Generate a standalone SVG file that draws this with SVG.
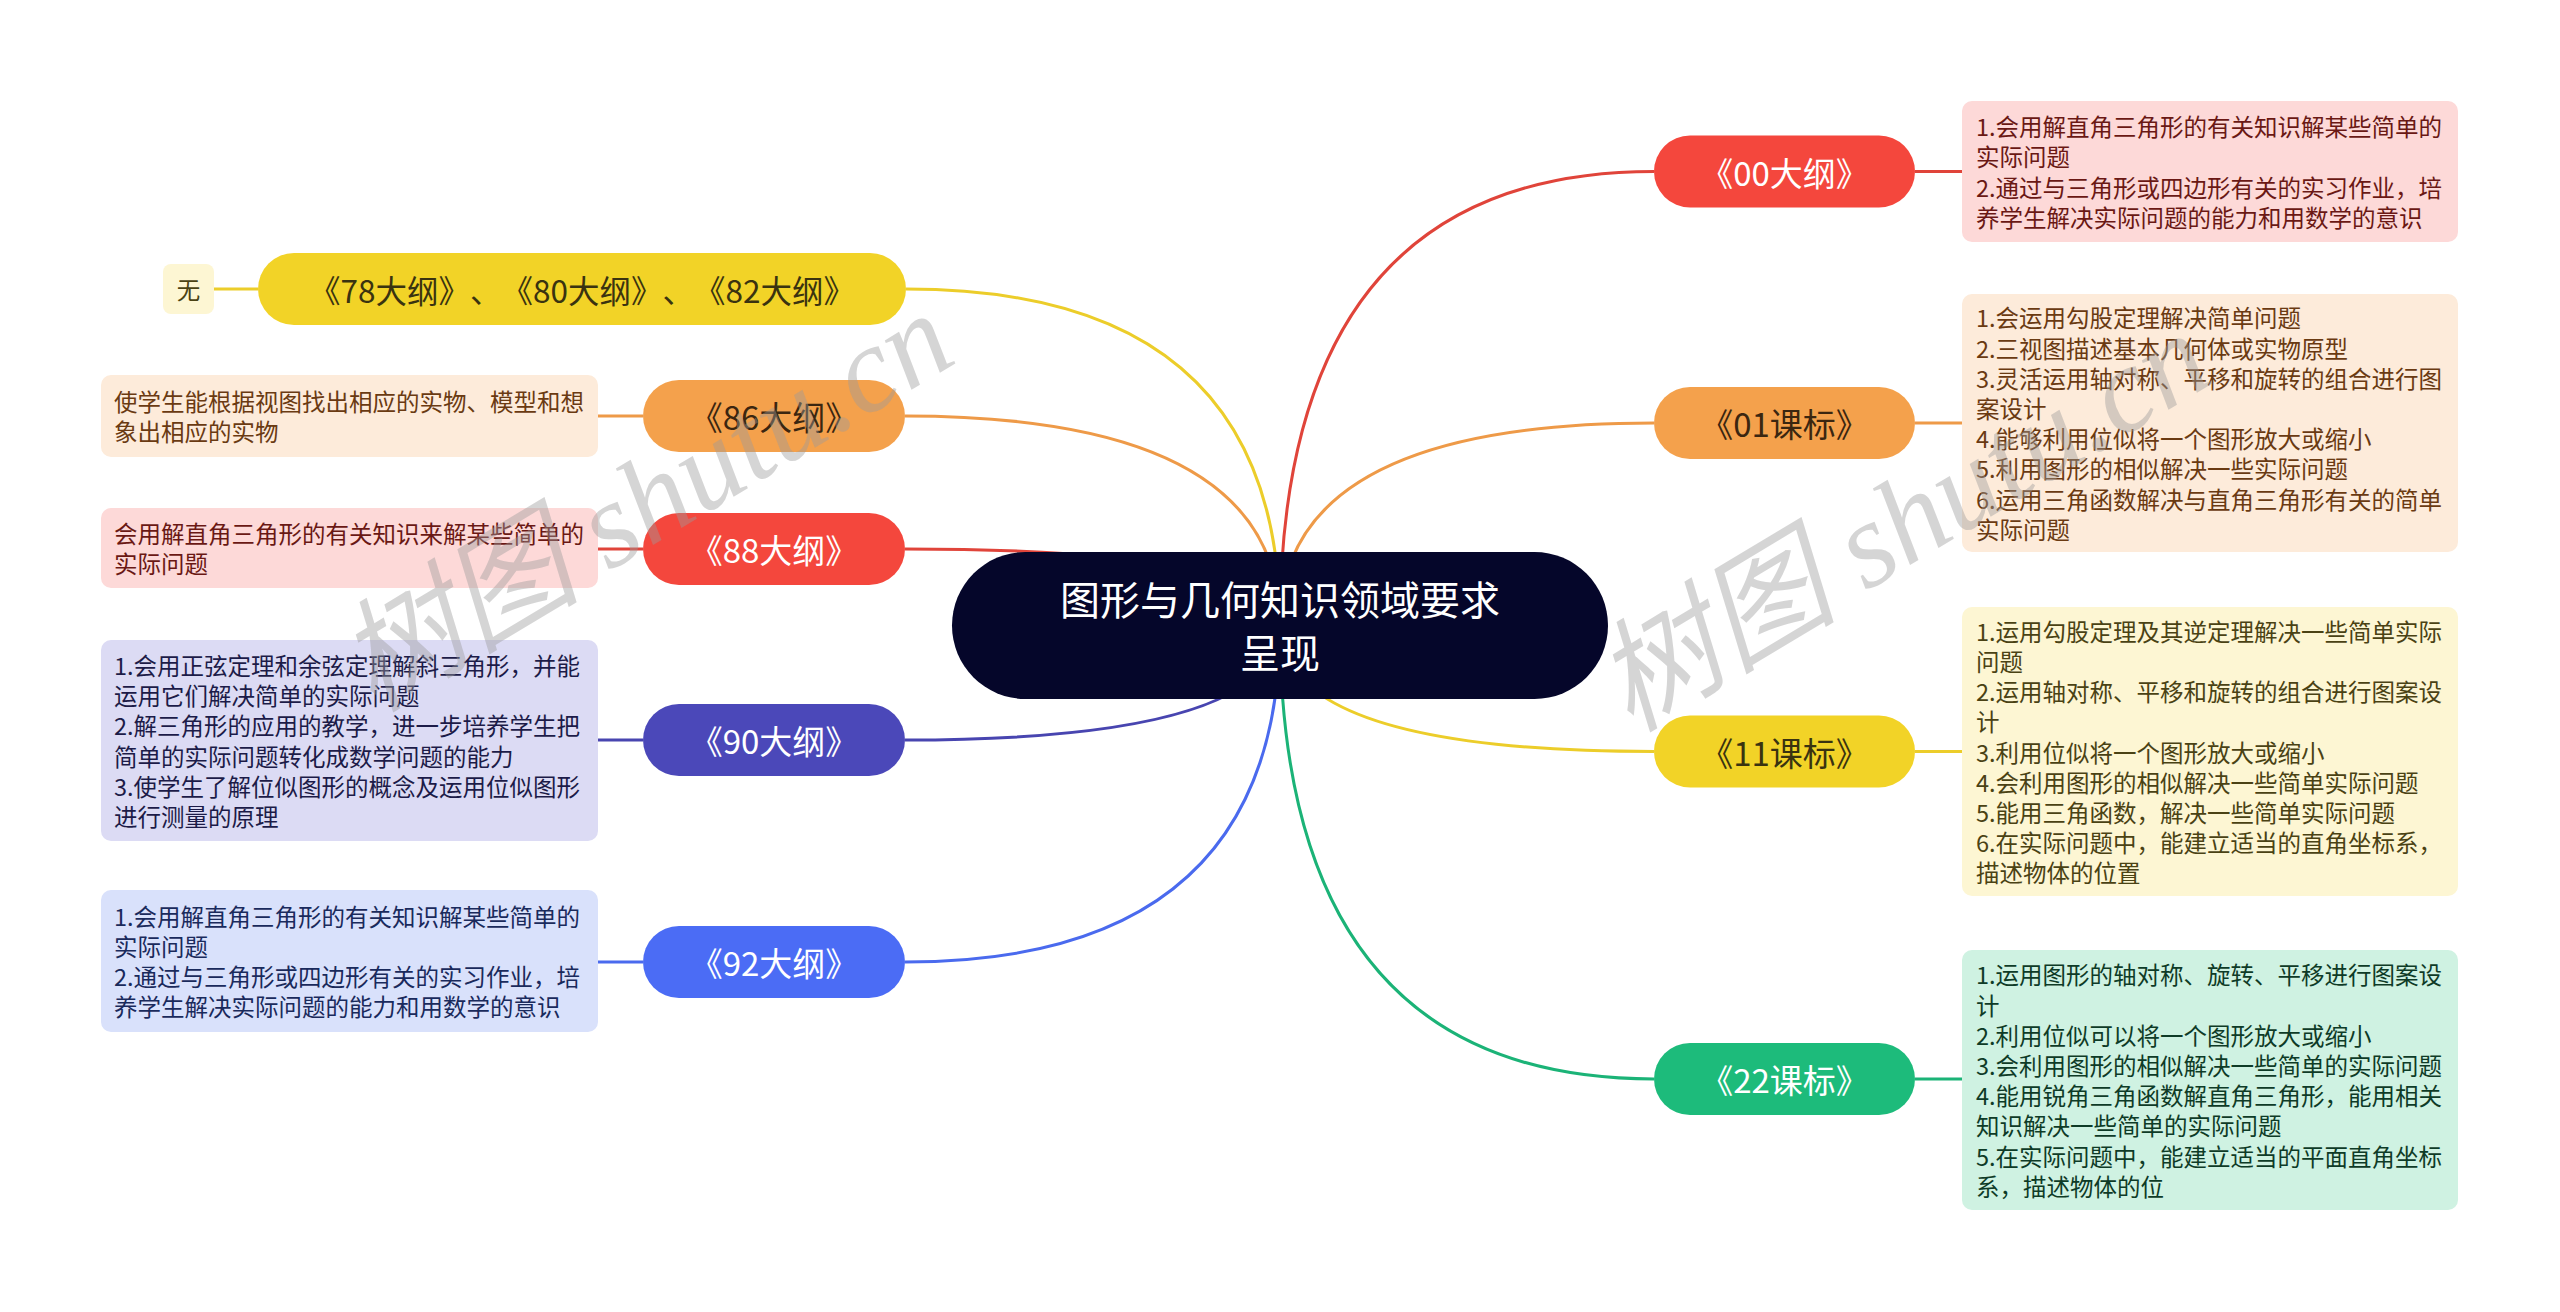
<svg xmlns="http://www.w3.org/2000/svg" width="2560" height="1312" viewBox="0 0 2560 1312">
<style>
text, tspan { dominant-baseline: central; }
text { font-family: "Noto Sans CJK SC", "Noto Sans", sans-serif; }
.root-t { font-size: 40px; fill: #ffffff; text-anchor: middle; }
.pill-t { font-size: 33px; text-anchor: middle; text-spacing-trim: space-all; font-feature-settings: "halt" 0, "chws" 0; }
.det-t { font-size: 23.5px; }
.wm { font-family: "Liberation Serif", "Noto Sans CJK SC", serif; font-size: 122px; fill: #9a9a9a; fill-opacity: 0.42; font-style: italic; dominant-baseline: auto; }
.c { fill: none; stroke-width: 3; }
</style>
<rect width="2560" height="1312" fill="#ffffff"/>
<g id="connectors">
  <path class="c" stroke="#e0443a" d="M1280 625 Q1280 171.5 1654 171.5"/>
  <path class="c" stroke="#ee9a48" d="M1280 625 Q1280 423 1654 423"/>
  <path class="c" stroke="#eccd2a" d="M1280 625 Q1280 751.5 1654 751.5"/>
  <path class="c" stroke="#1bb377" d="M1280 625 Q1280 1079 1654 1079"/>
  <path class="c" stroke="#eccd2a" d="M1280 625 Q1280 289 906 289"/>
  <path class="c" stroke="#ee9a48" d="M1280 625 Q1280 416 905 416"/>
  <path class="c" stroke="#e0443a" d="M1280 625 Q1280 549 905 549"/>
  <path class="c" stroke="#4845b0" d="M1280 625 Q1280 740 905 740"/>
  <path class="c" stroke="#4a6aee" d="M1280 625 Q1280 962 905 962"/>
  <path class="c" stroke="#e0443a" d="M1915 171.5 H1962"/>
  <path class="c" stroke="#ee9a48" d="M1915 423 H1962"/>
  <path class="c" stroke="#eccd2a" d="M1915 751.5 H1962"/>
  <path class="c" stroke="#1bb377" d="M1915 1079 H1962"/>
  <path class="c" stroke="#eccd2a" d="M214 289 H258"/>
  <path class="c" stroke="#ee9a48" d="M598 416 H643"/>
  <path class="c" stroke="#e0443a" d="M598 549 H643"/>
  <path class="c" stroke="#4845b0" d="M598 740 H643"/>
  <path class="c" stroke="#4a6aee" d="M598 962 H643"/>
</g>
<g id="root">
  <rect x="952" y="552" width="656" height="147" rx="73.5" fill="#05062a"/>
  <text class="root-t" x="1280" y="598">图形与几何知识领域要求</text>
  <text class="root-t" x="1280" y="651">呈现</text>
</g>
<g id="n00">
  <rect x="1654" y="135.5" width="261" height="72" rx="36" fill="#f4473d"/>
  <text class="pill-t" x="1784.5" y="171.5" fill="#ffffff">《00大纲》</text>
</g>
<g id="d00">
  <rect x="1962" y="101" width="496" height="141" rx="10" fill="#fdd9d8"/>
  <text class="det-t" fill="#6a1814"><tspan x="1976" y="126.2">1.会用解直角三角形的有关知识解某些简单的</tspan><tspan x="1976" y="156.4">实际问题</tspan><tspan x="1976" y="186.6">2.通过与三角形或四边形有关的实习作业，培</tspan><tspan x="1976" y="216.8">养学生解决实际问题的能力和用数学的意识</tspan></text>
</g>
<g id="n01">
  <rect x="1654" y="387" width="261" height="72" rx="36" fill="#f4a14c"/>
  <text class="pill-t" x="1784.5" y="423" fill="#3b2610">《01课标》</text>
</g>
<g id="d01">
  <rect x="1962" y="294" width="496" height="258" rx="10" fill="#fdebda"/>
  <text class="det-t" fill="#6a3a12"><tspan x="1976" y="317.3">1.会运用勾股定理解决简单问题</tspan><tspan x="1976" y="347.5">2.三视图描述基本几何体或实物原型</tspan><tspan x="1976" y="377.7">3.灵活运用轴对称、平移和旋转的组合进行图</tspan><tspan x="1976" y="407.9">案设计</tspan><tspan x="1976" y="438.1">4.能够利用位似将一个图形放大或缩小</tspan><tspan x="1976" y="468.3">5.利用图形的相似解决一些实际问题</tspan><tspan x="1976" y="498.5">6.运用三角函数解决与直角三角形有关的简单</tspan><tspan x="1976" y="528.7">实际问题</tspan></text>
</g>
<g id="n11">
  <rect x="1654" y="715.5" width="261" height="72" rx="36" fill="#f2d327"/>
  <text class="pill-t" x="1784.5" y="751.5" fill="#3a3310">《11课标》</text>
</g>
<g id="d11">
  <rect x="1962" y="607" width="496" height="289" rx="10" fill="#fdf6d3"/>
  <text class="det-t" fill="#4a4214"><tspan x="1976" y="630.7">1.运用勾股定理及其逆定理解决一些简单实际</tspan><tspan x="1976" y="660.9">问题</tspan><tspan x="1976" y="691.1">2.运用轴对称、平移和旋转的组合进行图案设</tspan><tspan x="1976" y="721.3">计</tspan><tspan x="1976" y="751.5">3.利用位似将一个图形放大或缩小</tspan><tspan x="1976" y="781.7">4.会利用图形的相似解决一些简单实际问题</tspan><tspan x="1976" y="811.9">5.能用三角函数，解决一些简单实际问题</tspan><tspan x="1976" y="842.1">6.在实际问题中，能建立适当的直角坐标系，</tspan><tspan x="1976" y="872.3">描述物体的位置</tspan></text>
</g>
<g id="n22">
  <rect x="1654" y="1043" width="261" height="72" rx="36" fill="#1dbb7b"/>
  <text class="pill-t" x="1784.5" y="1079" fill="#ffffff">《22课标》</text>
</g>
<g id="d22">
  <rect x="1962" y="950" width="496" height="260" rx="10" fill="#cff2e2"/>
  <text class="det-t" fill="#0e3b27"><tspan x="1976" y="974.3">1.运用图形的轴对称、旋转、平移进行图案设</tspan><tspan x="1976" y="1004.5">计</tspan><tspan x="1976" y="1034.7">2.利用位似可以将一个图形放大或缩小</tspan><tspan x="1976" y="1064.9">3.会利用图形的相似解决一些简单的实际问题</tspan><tspan x="1976" y="1095.1">4.能用锐角三角函数解直角三角形，能用相关</tspan><tspan x="1976" y="1125.3">知识解决一些简单的实际问题</tspan><tspan x="1976" y="1155.5">5.在实际问题中，能建立适当的平面直角坐标</tspan><tspan x="1976" y="1185.7">系，描述物体的位</tspan></text>
</g>
<g id="n78">
  <rect x="258" y="253" width="648" height="72" rx="36" fill="#f2d327"/>
  <text class="pill-t" x="582" y="289" fill="#3a3310" style="font-size:31.5px">《78大纲》、《80大纲》、《82大纲》</text>
</g>
<g id="d78">
  <rect x="163" y="264" width="51" height="50" rx="8" fill="#fdf6d3"/>
  <text class="det-t" x="188.5" y="289" fill="#4a4214" text-anchor="middle">无</text>
</g>
<g id="n86">
  <rect x="643" y="380" width="262" height="72" rx="36" fill="#f4a14c"/>
  <text class="pill-t" x="774" y="416" fill="#3b2610">《86大纲》</text>
</g>
<g id="d86">
  <rect x="101" y="375" width="497" height="82" rx="10" fill="#fdebda"/>
  <text class="det-t" fill="#6a3a12"><tspan x="114" y="400.9">使学生能根据视图找出相应的实物、模型和想</tspan><tspan x="114" y="431.1">象出相应的实物</tspan></text>
</g>
<g id="n88">
  <rect x="643" y="513" width="262" height="72" rx="36" fill="#f4473d"/>
  <text class="pill-t" x="774" y="549" fill="#ffffff">《88大纲》</text>
</g>
<g id="d88">
  <rect x="101" y="508" width="497" height="80" rx="10" fill="#fdd9d8"/>
  <text class="det-t" fill="#6a1814"><tspan x="114" y="532.9">会用解直角三角形的有关知识来解某些简单的</tspan><tspan x="114" y="563.1">实际问题</tspan></text>
</g>
<g id="n90">
  <rect x="643" y="704" width="262" height="72" rx="36" fill="#4b48b9"/>
  <text class="pill-t" x="774" y="740" fill="#ffffff">《90大纲》</text>
</g>
<g id="d90">
  <rect x="101" y="640" width="497" height="201" rx="10" fill="#dcdbf4"/>
  <text class="det-t" fill="#1c1b48"><tspan x="114" y="665">1.会用正弦定理和余弦定理解斜三角形，并能</tspan><tspan x="114" y="695.2">运用它们解决简单的实际问题</tspan><tspan x="114" y="725.4">2.解三角形的应用的教学，进一步培养学生把</tspan><tspan x="114" y="755.6">简单的实际问题转化成数学问题的能力</tspan><tspan x="114" y="785.8">3.使学生了解位似图形的概念及运用位似图形</tspan><tspan x="114" y="816">进行测量的原理</tspan></text>
</g>
<g id="n92">
  <rect x="643" y="926" width="262" height="72" rx="36" fill="#4b6cf5"/>
  <text class="pill-t" x="774" y="962" fill="#ffffff">《92大纲》</text>
</g>
<g id="d92">
  <rect x="101" y="890" width="497" height="142" rx="10" fill="#d9e1fb"/>
  <text class="det-t" fill="#1a2a5c"><tspan x="114" y="915.7">1.会用解直角三角形的有关知识解某些简单的</tspan><tspan x="114" y="945.9">实际问题</tspan><tspan x="114" y="976.1">2.通过与三角形或四边形有关的实习作业，培</tspan><tspan x="114" y="1006.3">养学生解决实际问题的能力和用数学的意识</tspan></text>
</g>
<g id="watermarks">
  <text class="wm" x="648" y="542" text-anchor="middle" transform="rotate(-31 648 506)">树图 shutu.cn</text>
  <text class="wm" x="1905" y="562" text-anchor="middle" transform="rotate(-31 1905 526)">树图 shutu.cn</text>
</g>
</svg>
